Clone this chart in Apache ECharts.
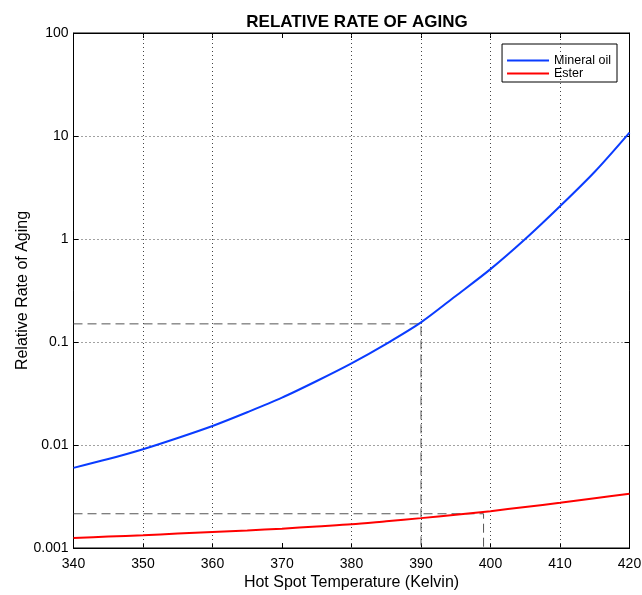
<!DOCTYPE html>
<html>
<head>
<meta charset="utf-8">
<script src="https://cdn.jsdelivr.net/npm/echarts@6/dist/echarts.min.js"></script>
<style>
  html, body { margin: 0; padding: 0; background: #fff; }
  #chart { width: 642px; height: 595px; }
</style>
</head>
<body>
<div id="chart"></div>
<script>
// hot spot temperature (K)
const temps = [340, 345, 350, 355, 360, 365, 370, 375, 380, 385, 390, 395, 400, 405, 410, 415, 420];
// relative rate of aging
const mineralOil = [0.0060, 0.0073, 0.0091, 0.0117, 0.0153, 0.0208, 0.0288, 0.0418, 0.062, 0.096, 0.155, 0.28, 0.51, 1.0, 2.08, 4.5, 10.8];
const ester = [0.00125, 0.00129, 0.00133, 0.00138, 0.00143, 0.00148, 0.00154, 0.00162, 0.00170, 0.00182, 0.00195, 0.00210, 0.00228, 0.00250, 0.00275, 0.00304, 0.00336];

// dashed guide lines
const guideOil = [[340, 0.15], [390, 0.15], [390, 0.001]];
const guideEster = [[340, 0.00215], [399, 0.00215], [399, 0.001]];

// vertical grid lines (no line at 370 in the original)
const xGrid = [350, 360, 380, 390, 400, 410];

const chart = echarts.init(document.getElementById('chart'));

const font = 'Liberation Sans, Arial, sans-serif';

chart.setOption({
  backgroundColor: '#fff',
  animation: false,
  title: {
    text: 'RELATIVE RATE OF AGING',
    left: 352,
    textAlign: 'center',
    top: 9,
    textStyle: { fontFamily: font, fontSize: 17, fontWeight: 'bold', color: '#000' }
  },
  legend: {
    data: ['Mineral oil', 'Ester'],
    orient: 'vertical',
    right: 25,
    top: 44,
    padding: [10, 6, 2, 5],
    itemGap: 0,
    itemWidth: 42,
    itemHeight: 2,
    icon: 'rect',
    backgroundColor: '#fff',
    borderColor: '#000',
    borderWidth: 1,
    borderRadius: 0,
    textStyle: { fontFamily: font, fontSize: 12.5, lineHeight: 12, color: '#000' }
  },
  grid: {
    left: 73.5,
    right: 12.5,
    top: 33,
    bottom: 47,
    outerBoundsMode: 'none',
    show: true,
    borderColor: '#000',
    borderWidth: 1
  },
  xAxis: [{
    type: 'value',
    min: 340,
    max: 420,
    interval: 10,
    name: 'Hot Spot Temperature (Kelvin)',
    nameLocation: 'middle',
    nameGap: 27,
    nameMoveOverlap: false,
    nameTextStyle: { fontFamily: font, fontSize: 16, color: '#000' },
    axisLine: { show: true, lineStyle: { color: '#000' } },
    axisTick: { show: true, inside: true, length: 5, lineStyle: { color: '#000' } },
    axisLabel: { fontFamily: font, fontSize: 14, color: '#000', margin: 9 },
    splitLine: { show: false }
  }, {
    type: 'value',
    position: 'top',
    min: 340,
    max: 420,
    interval: 10,
    axisLine: { show: true, lineStyle: { color: '#000' } },
    axisTick: { show: true, inside: true, length: 5, lineStyle: { color: '#000' } },
    axisLabel: { show: false },
    splitLine: { show: false }
  }],
  yAxis: [{
    type: 'log',
    logBase: 10,
    min: 0.001,
    max: 100,
    name: 'Relative Rate of Aging',
    nameLocation: 'middle',
    nameGap: 43,
    nameMoveOverlap: false,
    nameTextStyle: { fontFamily: font, fontSize: 16, color: '#000' },
    axisLine: { show: true, lineStyle: { color: '#000' } },
    axisTick: { show: true, inside: true, length: 5, lineStyle: { color: '#000' } },
    axisLabel: {
      fontFamily: font, fontSize: 14, color: '#000', margin: 5,
      formatter: v => String(+v.toPrecision(3))
    },
    splitLine: { show: true, lineStyle: { color: '#444', type: [1, 3], width: 1 } }
  }, {
    type: 'log',
    logBase: 10,
    min: 0.001,
    max: 100,
    position: 'right',
    axisLine: { show: true, lineStyle: { color: '#000' } },
    axisTick: { show: true, inside: true, length: 5, lineStyle: { color: '#000' } },
    axisLabel: { show: false },
    splitLine: { show: false }
  }],
  series: [
    {
      name: 'xgrid',
      type: 'line',
      data: [],
      silent: true,
      markLine: {
        silent: true,
        symbol: 'none',
        label: { show: false },
        lineStyle: { color: '#444', type: [1, 3], width: 1 },
        data: xGrid.map(x => ({ xAxis: x }))
      }
    },
    {
      name: 'guide1',
      type: 'line',
      data: guideOil,
      showSymbol: false,
      silent: true,
      lineStyle: { color: '#555', width: 1, type: [9, 5] },
      z: 3
    },
    {
      name: 'guide2',
      type: 'line',
      data: guideEster,
      showSymbol: false,
      silent: true,
      lineStyle: { color: '#555', width: 1, type: [9, 5] },
      z: 3
    },
    {
      name: 'Mineral oil',
      type: 'line',
      data: temps.map((t, i) => [t, mineralOil[i]]),
      showSymbol: false,
      smooth: 0.3,
      color: '#0a3cff',
      lineStyle: { color: '#0a3cff', width: 2 },
      z: 5
    },
    {
      name: 'Ester',
      type: 'line',
      data: temps.map((t, i) => [t, ester[i]]),
      showSymbol: false,
      smooth: 0.3,
      color: '#ff0000',
      lineStyle: { color: '#ff0000', width: 2 },
      z: 5
    }
  ]
});
</script>
</body>
</html>
